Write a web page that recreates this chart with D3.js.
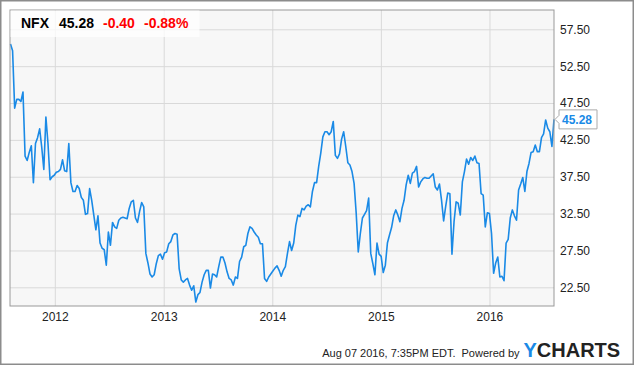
<!DOCTYPE html>
<html>
<head>
<meta charset="utf-8">
<script src="https://cdn.jsdelivr.net/npm/d3@7"></script>
<style>
  body { margin: 0; background: #fff; }
  svg { display: block; font-family: Arial, "Liberation Sans", sans-serif; }
</style>
</head>
<body>
<svg width="635" height="366"></svg>
<script>
// weekly closes of NFX, first week ending 2011-08-05
const symbol = "NFX";
const firstWeek = "2011-08-05";
const prices = [
  55.5, 54.6, 46.8, 48.0, 48.0, 47.7, 49.0, 40.3, 39.7, 40.8,
  41.7, 36.7, 42.0, 42.8, 44.0, 41.5, 38.5, 45.6, 42.0, 37.1,
  37.5, 37.7, 38.1, 38.2, 38.5, 39.8, 38.3, 38.2, 42.0, 36.7,
  35.5, 35.5, 36.3, 35.9, 34.7, 34.3, 32.4, 32.5, 35.9, 34.3,
  32.3, 30.3, 32.2, 28.5, 27.8, 27.6, 25.5, 30.0, 28.2, 31.3,
  30.7, 30.5, 31.6, 31.9, 32.0, 31.9, 31.8, 33.2, 34.1, 34.3,
  31.9, 31.3, 32.8, 34.0, 33.4, 27.1, 25.8, 24.3, 23.9, 24.2,
  25.7, 26.8, 27.0, 26.3, 27.2, 27.3, 28.4, 28.7, 29.6, 29.8,
  29.7, 25.0, 23.5, 23.2, 23.5, 23.7, 22.8, 22.1, 22.7, 20.5,
  21.5, 21.8, 23.2, 24.2, 24.8, 24.8, 22.4, 24.3, 24.2, 23.9,
  25.3, 26.6, 26.6, 25.8, 24.6, 23.7, 23.5, 22.8, 23.9, 23.7,
  26.0, 26.6, 28.0, 28.2, 29.8, 30.7, 30.5, 30.0, 29.6, 29.3,
  28.4, 28.4, 23.7, 23.3, 23.9, 24.3, 24.7, 25.1, 25.4, 24.8,
  24.0, 24.8, 25.3, 27.1, 28.7, 27.5, 28.5, 30.9, 32.3, 32.1,
  33.2, 33.0, 33.5, 33.7, 33.4, 35.5, 36.7, 36.7, 38.9, 40.7,
  42.9, 43.6, 43.6, 43.2, 43.6, 45.0, 40.4, 40.0, 40.6, 42.6,
  43.6, 41.6, 39.4, 39.1, 38.2, 36.6, 32.6, 27.3, 29.8, 31.9,
  32.4, 32.9, 34.6, 27.1, 25.7, 24.2, 28.5, 27.0, 26.7, 24.5,
  25.5, 28.5, 29.6, 30.6, 32.2, 33.0, 32.3, 31.4, 33.2, 34.3,
  36.4, 37.7, 36.6, 38.0, 38.2, 38.9, 36.1, 36.8, 37.2, 37.4,
  37.3, 37.3, 37.6, 37.9, 36.1, 35.7, 36.5, 34.3, 31.5, 33.5,
  35.3, 35.2, 27.0, 31.4, 34.1, 33.9, 32.3, 36.8, 38.2, 39.9,
  39.2, 40.1, 39.7, 40.3, 39.4, 39.3, 35.2, 35.0, 30.7, 32.6,
  32.5, 29.8, 24.4, 25.8, 26.6, 23.9, 24.0, 23.4, 28.5, 29.0,
  31.9, 33.0, 32.2, 31.6, 35.7, 36.5, 37.4, 35.5, 38.2, 39.3,
  40.8, 40.9, 41.8, 40.9, 40.9, 42.8, 43.3, 45.2, 44.1, 43.6,
  41.6, 45.28
];
const change = "-0.40";
const changePct = "-0.88%";
const yTicks = [22.5, 27.5, 32.5, 37.5, 42.5, 47.5, 52.5, 57.5];
const xTicks = ["2012-01-01", "2013-01-01", "2014-01-01", "2015-01-01", "2016-01-01"];
const stamp = "Aug 07 2016, 7:35PM EDT.";

const parse = d3.utcParse("%Y-%m-%d");
const start = parse(firstWeek);
const data = prices.map((v, i) => ({ date: d3.utcWeek.offset(start, i), value: v }));
const last = data[data.length - 1];

const svg = d3.select("svg");
const plot = { left: 10, top: 10, right: 554, bottom: 306 };
const blue = "#1a8ae6";

const x = d3.scaleUtc().domain([data[0].date, last.date]).range([10.5, 554]);
const y = d3.scaleLinear().domain([22.5, 57.5]).range([287.3, 29.3]);

// outer frame
svg.append("rect")
  .attr("x", 0.75).attr("y", 0.75).attr("width", 632.5).attr("height", 363.5)
  .attr("fill", "#fff").attr("stroke", "#8c8c8c").attr("stroke-width", 1.5);

// plot background
svg.append("rect")
  .attr("x", plot.left).attr("y", plot.top)
  .attr("width", plot.right - plot.left).attr("height", plot.bottom - plot.top)
  .attr("fill", "#f7f7f7");

// grid lines
svg.append("g")
  .attr("transform", `translate(${plot.left},0)`)
  .call(d3.axisRight(y).tickValues(yTicks).tickSize(plot.right - plot.left).tickFormat(""))
  .call(g => g.select(".domain").remove())
  .call(g => g.selectAll("line").attr("stroke", "#d9d9d9"));

svg.append("g")
  .attr("transform", `translate(0,${plot.top})`)
  .call(d3.axisBottom(x).tickValues(xTicks.map(parse)).tickSize(plot.bottom - plot.top).tickFormat(""))
  .call(g => g.select(".domain").remove())
  .call(g => g.selectAll("line").attr("stroke", "#d9d9d9"));

// price line
svg.append("path")
  .datum(data)
  .attr("fill", "none")
  .attr("stroke", blue)
  .attr("stroke-width", 1.6)
  .attr("stroke-linejoin", "round")
  .attr("d", d3.line().x(d => x(d.date)).y(d => y(d.value)));

// plot border
svg.append("rect")
  .attr("x", plot.left).attr("y", plot.top)
  .attr("width", plot.right - plot.left).attr("height", plot.bottom - plot.top)
  .attr("fill", "none").attr("stroke", "#999").attr("stroke-width", 1);

// axes labels
svg.append("g")
  .attr("transform", `translate(${plot.right},0)`)
  .call(d3.axisRight(y).tickValues(yTicks).tickSize(0).tickPadding(6).tickFormat(d3.format(".2f")))
  .call(g => g.select(".domain").remove())
  .call(g => g.selectAll("text").attr("font-size", 12).attr("fill", "#222").attr("font-family", null));

svg.append("g")
  .attr("transform", `translate(0,${plot.bottom})`)
  .call(d3.axisBottom(x).tickValues(xTicks.map(parse)).tickSize(0).tickPadding(6.5).tickFormat(d3.utcFormat("%Y")))
  .call(g => g.select(".domain").remove())
  .call(g => g.selectAll("text").attr("font-size", 12).attr("fill", "#222").attr("font-family", null));

// last value flag
const ly = y(last.value);
svg.append("path")
  .attr("d", `M555,${ly} L559,${ly - 4} L559,${ly - 9.5} L597,${ly - 9.5} L597,${ly + 9.5} L559,${ly + 9.5} L559,${ly + 4} Z`)
  .attr("fill", "#fff").attr("stroke", "#aaa").attr("stroke-width", 1);
svg.append("text")
  .attr("x", 562).attr("y", ly + 4.5)
  .attr("font-size", 12).attr("font-weight", "bold").attr("fill", blue)
  .text(d3.format(".2f")(last.value));

// header
svg.append("rect")
  .attr("x", plot.left + 0.5).attr("y", plot.top + 0.5).attr("width", 189).attr("height", 26.5)
  .attr("fill", "#fff").attr("fill-opacity", 0.75);
const head = svg.append("text").attr("y", 28).attr("font-size", 14).attr("font-weight", "bold");
head.append("tspan").attr("x", 21).attr("fill", "#000").text(symbol);
head.append("tspan").attr("x", 59).attr("fill", "#000").text(d3.format(".2f")(last.value));
head.append("tspan").attr("x", 103).attr("fill", "#f00").text(change);
head.append("tspan").attr("x", 144).attr("fill", "#f00").text(changePct);

// footer
svg.append("text").attr("x", 455.5).attr("y", 357).attr("text-anchor", "end")
  .attr("font-size", 11).attr("fill", "#222").text(stamp);
svg.append("text").attr("x", 461.5).attr("y", 357)
  .attr("font-size", 11).attr("fill", "#222").text("Powered by");
const logo = svg.append("text").attr("x", 523.5).attr("y", 357.3)
  .attr("font-size", 20).attr("font-weight", "bold");
logo.append("tspan").attr("fill", blue).text("Y");
logo.append("tspan").attr("fill", "#222").text("CHARTS");
</script>
</body>
</html>
